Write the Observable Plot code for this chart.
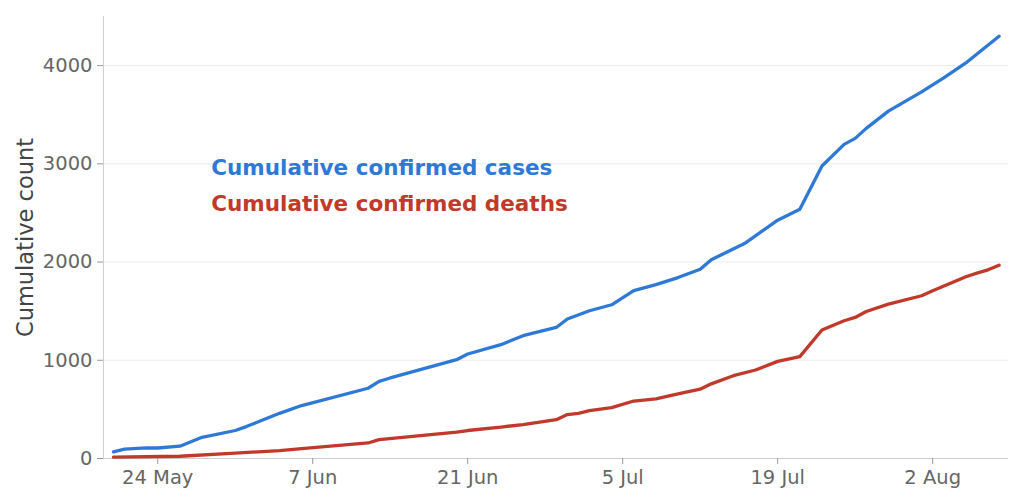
<!DOCTYPE html>
<html>
<head>
<meta charset="utf-8">
<script src="https://cdn.jsdelivr.net/npm/d3@7"></script>
<script src="https://cdn.jsdelivr.net/npm/@observablehq/plot@0.6"></script>
<style>
  html, body { margin: 0; padding: 0; background: #fff; }
</style>
</head>
<body>
<div id="chart"></div>
<script>
const caseDates = ["2020-05-20","2020-05-21","2020-05-23","2020-05-24","2020-05-26","2020-05-28","2020-05-31","2020-06-01","2020-06-04","2020-06-06","2020-06-12","2020-06-13","2020-06-14","2020-06-20","2020-06-21","2020-06-24","2020-06-26","2020-06-29","2020-06-30","2020-07-02","2020-07-04","2020-07-06","2020-07-08","2020-07-10","2020-07-12","2020-07-13","2020-07-16","2020-07-19","2020-07-21","2020-07-23","2020-07-25","2020-07-26","2020-07-27","2020-07-29","2020-08-01","2020-08-03","2020-08-05","2020-08-06","2020-08-08"];
const caseValues = [68,95,109,107,125,216,285,325,460,539,715,786,820,1006,1064,1159,1250,1334,1420,1504,1565,1710,1770,1842,1927,2024,2188,2426,2538,2978,3198,3259,3361,3537,3733,3875,4027,4119,4299];

const deathDates = ["2020-05-20","2020-05-26","2020-05-31","2020-06-04","2020-06-06","2020-06-12","2020-06-13","2020-06-20","2020-06-21","2020-06-24","2020-06-26","2020-06-29","2020-06-30","2020-07-01","2020-07-02","2020-07-04","2020-07-06","2020-07-08","2020-07-10","2020-07-12","2020-07-13","2020-07-15","2020-07-17","2020-07-19","2020-07-21","2020-07-23","2020-07-25","2020-07-26","2020-07-27","2020-07-29","2020-08-01","2020-08-02","2020-08-05","2020-08-06","2020-08-07","2020-08-08"];
const deathValues = [13,23,54,81,100,158,192,268,285,320,346,395,447,460,488,518,585,607,657,706,760,843,901,989,1037,1308,1402,1436,1497,1572,1657,1707,1850,1887,1921,1968];

const xTicks = ["2020-05-24","2020-06-07","2020-06-21","2020-07-05","2020-07-19","2020-08-02"];
const yTicks = [0,1000,2000,3000,4000];
const gridValues = [1000,2000,3000,4000];

const seriesLabels = ["Cumulative confirmed cases","Cumulative confirmed deaths"];
const labelDates = ["2020-05-28T20:00:00Z","2020-05-28T20:00:00Z"];
const labelValues = [2952, 2586];

const BLUE = "#2e79d6";
const RED = "#c0392b";

const parse = s => new Date(s.length === 10 ? s + "T00:00:00Z" : s);
const cases = caseDates.map((d, i) => ({date: parse(d), value: caseValues[i]}));
const deaths = deathDates.map((d, i) => ({date: parse(d), value: deathValues[i]}));
const labels = seriesLabels.map((t, i) => ({text: t, date: parse(labelDates[i]), value: labelValues[i], color: i === 0 ? BLUE : RED}));

const xDomain = [new Date("2020-05-19T02:24:00Z"), new Date("2020-08-08T20:24:00Z")];

const chart = Plot.plot({
  width: 1024,
  height: 502,
  marginLeft: 103,
  marginRight: 16,
  marginTop: 16,
  marginBottom: 44,
  style: {fontFamily: "DejaVu Sans", background: "#fff", overflow: "visible"},
  x: {type: "utc", domain: xDomain},
  y: {domain: [0, 4500]},
  marks: [
    Plot.ruleY(gridValues, {stroke: "#ebebeb", strokeWidth: 1}),
    Plot.ruleX([xDomain[0]], {stroke: "#cfcfcf", strokeWidth: 1}),
    Plot.ruleY([0], {stroke: "#cfcfcf", strokeWidth: 1}),
    Plot.axisY({
      ticks: yTicks,
      tickFormat: d3.format("d"),
      tickSize: 6,
      tickPadding: 5,
      fontSize: 19.5,
      color: "#666",
      stroke: "#999",
      label: null
    }),
    Plot.axisX({
      ticks: xTicks.map(parse),
      tickFormat: d3.utcFormat("%-d %b"),
      tickSize: 6,
      tickPadding: 6,
      fontSize: 19.5,
      color: "#666",
      stroke: "#999",
      label: null
    }),
    Plot.text(["Cumulative count"], {
      frameAnchor: "left",
      textAnchor: "middle",
      rotate: -90,
      dx: -77.5,
      fontSize: 22.5,
      fill: "#444"
    }),
    Plot.line(cases, {x: "date", y: "value", stroke: BLUE, strokeWidth: 3.3, strokeLinejoin: "round", strokeLinecap: "round"}),
    Plot.line(deaths, {x: "date", y: "value", stroke: RED, strokeWidth: 3.3, strokeLinejoin: "round", strokeLinecap: "round"}),
    Plot.text(labels, {
      x: "date", y: "value", text: "text", fill: "color",
      textAnchor: "start", fontSize: 21.5, fontWeight: "bold"
    })
  ]
});
document.getElementById("chart").appendChild(chart);
</script>
</body>
</html>
